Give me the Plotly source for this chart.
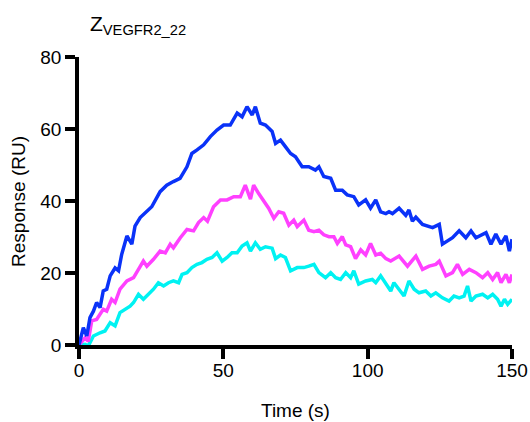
import plotly.graph_objects as go

# Time (s) and response (RU)
t_blue = [0, 1.5, 2.7, 3.8, 5.0, 6.1, 7.3, 8.4, 9.6, 10.8, 12.5, 13.7, 14.8, 16.6, 18.3, 19.4, 21.2, 22.9,
          25.2, 28.1, 30.4, 32.7, 35.0, 37.4, 39.1, 40.9, 43.2, 45.5, 47.8, 50.1, 52.4, 54.8, 56.5, 58.2,
          60.0, 61.1, 62.8, 64.6, 66.9, 68.1, 69.8, 71.5, 73.3, 75.0, 77.3, 79.6, 81.9, 83.1, 84.8, 87.2,
          88.9, 91.2, 92.9, 95.2, 96.9, 99.3, 101.0, 102.8, 104.5, 106.3, 107.4, 108.6, 110.9, 113.2, 114.3,
          115.5, 116.7, 119.0, 122.5, 124.8, 125.9, 129.4, 131.7, 134.0, 135.8, 137.5, 141.0, 142.7, 144.4,
          146.2, 147.9, 149.1, 150.0]
y_blue = [0, 4.8, 2.5, 7.6, 9.4, 11.8, 10.4, 15.0, 15.5, 19.2, 21.4, 20.6, 25.2, 30.3, 28.0, 33.0, 35.4, 36.8,
          38.4, 42.6, 44.4, 45.4, 46.3, 49.5, 53.2, 54.2, 55.6, 57.9, 59.7, 61.1, 61.1, 64.4, 63.4, 66.2,
          63.9, 66.2, 61.6, 61.1, 59.3, 56.0, 56.9, 55.1, 53.2, 52.3, 49.5, 49.5, 48.6, 49.5, 46.8, 46.3,
          43.0, 43.0, 41.7, 41.2, 38.9, 40.3, 38.0, 40.3, 37.0, 36.5, 37.0, 36.5, 38.0, 36.0, 37.5,
          34.4, 35.5, 33.5, 32.6, 33.5, 28.0, 29.8, 31.7, 29.8, 31.7, 29.8, 31.2, 28.0, 30.8,
          28.0, 30.3, 26.1, 29.4]

t_magenta = [0, 2.1, 3.2, 4.4, 6.1, 8.4, 9.6, 11.3, 12.5, 14.2, 16.6, 18.9, 20.6, 22.3, 23.5, 25.8, 28.1,
             29.9, 31.6, 32.7, 35.1, 37.4, 39.7, 41.4, 43.2, 44.5, 46.6, 49.0, 51.3, 53.6, 55.9, 57.6, 59.4,
             60.5, 62.3, 64.0, 65.7, 67.5, 69.2, 70.9, 72.7, 74.4, 75.6, 77.9, 79.6, 81.4, 83.1, 84.8, 86.6,
             88.3, 89.5, 91.2, 92.4, 94.1, 95.8, 97.6, 99.3, 101.0, 102.8, 104.5, 106.3, 108.0, 110.9, 113.8,
             116.7, 119.0, 121.3, 123.6, 124.8, 127.1, 129.4, 131.1, 132.9, 135.2, 137.5, 139.8, 141.6, 143.3,
             145.0, 146.2, 147.9, 149.1, 150.0]
y_magenta = [0, 2.0, 1.0, 6.7, 7.1, 9.9, 9.4, 12.7, 11.8, 15.5, 17.8, 18.7, 21.0, 23.3, 21.9, 23.8, 26.1,
             25.6, 28.0, 27.0, 29.8, 32.1, 31.7, 34.0, 35.4, 34.4, 38.4, 40.3, 40.3, 41.2, 41.2, 44.4, 40.5,
             44.4, 42.0, 40.0, 38.0, 35.2, 37.0, 36.6, 33.3, 34.7, 32.9, 34.7, 31.9, 31.5, 31.9, 30.6, 30.1,
             30.1, 28.2, 30.1, 27.8, 27.3, 24.0, 26.4, 25.0, 28.2, 25.0, 25.5, 24.0, 23.3, 24.7, 21.9,
             24.7, 21.0, 21.9, 22.4, 23.3, 19.2, 20.1, 22.4, 19.6, 21.0, 20.1, 18.7, 20.1, 18.2,
             20.1, 17.3, 19.6, 17.3, 19.6]

t_cyan = [0, 2.1, 3.2, 5.0, 7.3, 9.0, 10.8, 12.5, 14.2, 16.0, 17.7, 18.9, 20.6, 22.3, 24.1, 25.8, 27.5, 29.3,
          31.0, 32.7, 34.5, 35.7, 37.4, 39.1, 40.9, 42.6, 44.3, 46.1, 47.8, 49.6, 51.3, 53.0, 54.8, 56.5,
          58.2, 59.4, 61.1, 62.8, 64.6, 66.9, 68.1, 69.8, 71.5, 73.3, 75.6, 77.9, 79.6, 81.4, 83.1, 85.4,
          87.2, 88.9, 90.6, 92.4, 94.1, 95.2, 96.9, 99.3, 101.6, 102.8, 104.5, 106.3, 108.0, 109.1, 110.9,
          112.6, 114.3, 116.1, 117.8, 120.1, 121.9, 123.6, 125.9, 128.2, 129.9, 131.7, 133.4, 134.6, 135.8,
          137.5, 139.8, 141.6, 143.3, 145.0, 146.2, 147.4, 148.5, 150.0]
y_cyan = [0, 0.2, -0.3, 2.5, 3.4, 3.9, 6.2, 5.3, 9.0, 9.9, 10.8, 11.8, 14.1, 12.7, 14.1, 15.5, 17.3, 16.4,
          17.3, 17.8, 17.3, 19.6, 20.1, 21.5, 22.4, 22.9, 23.8, 24.3, 25.6, 23.3, 24.3, 25.6, 25.6, 27.5,
          28.4, 26.1, 28.4, 26.6, 27.3, 26.9, 24.0, 25.0, 24.3, 20.6, 21.5, 21.5, 21.9, 22.4, 20.1, 18.7,
          20.1, 18.7, 18.2, 20.1, 18.7, 20.6, 16.9, 17.8, 18.2, 17.3, 19.2, 16.9, 15.0, 17.3, 15.5,
          13.6, 17.8, 15.5, 14.5, 15.0, 13.6, 14.5, 13.1, 12.2, 13.6, 13.1, 13.6, 16.4, 12.2,
          13.6, 14.1, 13.1, 14.1, 12.7, 10.8, 12.7, 11.3, 12.7]

x_ticks = [0, 50, 100, 150]
y_ticks = [0, 20, 40, 60, 80]
title_text = "Z<sub>VEGFR2_22</sub>"
x_title = "Time (s)"
y_title = "Response (RU)"

FONT = "Liberation Sans, Arial, sans-serif"

fig = go.Figure()
for t, y, c in [(t_cyan, y_cyan, "#00F2F2"), (t_magenta, y_magenta, "#FF40FF"), (t_blue, y_blue, "#0A32F8")]:
    fig.add_trace(go.Scatter(x=t, y=y, mode="lines", line=dict(color=c, width=3.5), hoverinfo="skip"))

axis_common = dict(showgrid=False, zeroline=False, showline=True, linecolor="black", linewidth=3.8,
                   ticks="outside", ticklen=10, tickwidth=3.8, tickcolor="black", automargin=False,
                   tickfont=dict(family=FONT, size=19, color="black"))

fig.update_layout(
    width=530, height=422,
    margin=dict(l=79, r=18, t=57, b=77),
    plot_bgcolor="white", paper_bgcolor="white",
    showlegend=False,
    font=dict(family=FONT, color="black"),
    xaxis=dict(range=[0, 150], tickvals=x_ticks, ticktext=[str(v) for v in x_ticks],
               ticklabelstandoff=-5, **axis_common),
    yaxis=dict(range=[0, 80], tickvals=y_ticks, ticktext=[str(v) for v in y_ticks], **axis_common),
    annotations=[
        dict(text=title_text, xref="paper", yref="paper", x=0.02, y=1.111,
             xanchor="left", yanchor="middle", showarrow=False,
             font=dict(family=FONT, size=21, color="black")),
        dict(text=x_title, xref="paper", yref="paper", x=0.5, y=-0.229,
             xanchor="center", yanchor="middle", showarrow=False,
             font=dict(family=FONT, size=19, color="black")),
        dict(text=y_title, xref="paper", yref="paper", x=-0.141, y=0.5, textangle=-90,
             xanchor="center", yanchor="middle", showarrow=False,
             font=dict(family=FONT, size=19, color="black")),
    ],
)

fig.write_html("out.html")
